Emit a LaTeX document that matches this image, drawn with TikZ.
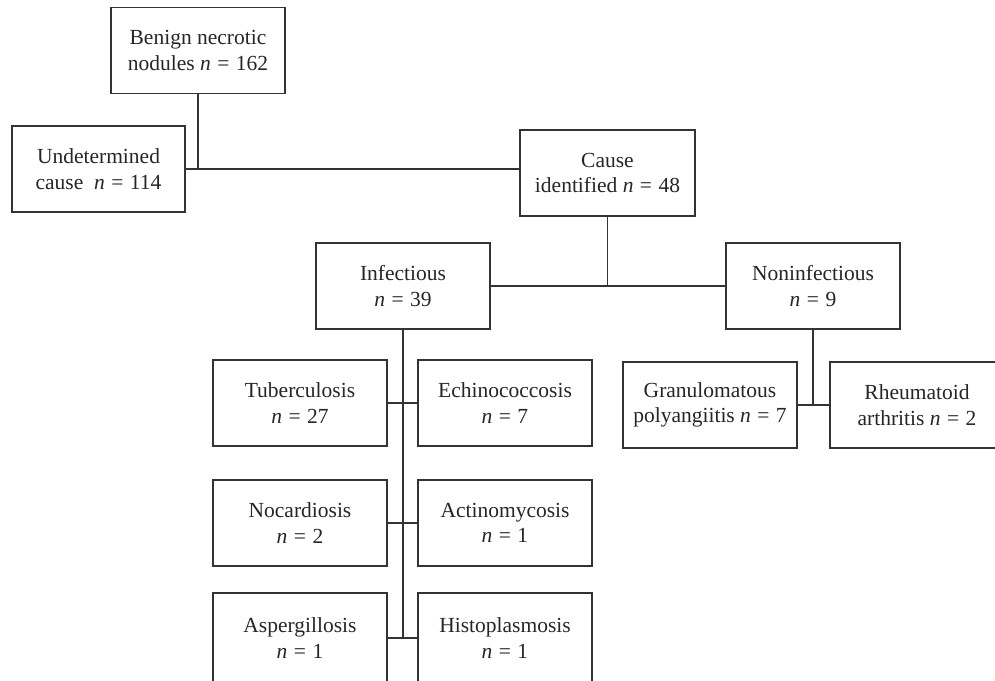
\documentclass[tikz,border=0pt]{standalone}
\usepackage{fontspec}
\setmainfont{Liberation Serif}
\newcommand{\nn}{\textit{n}\hspace{0.3em}=\hspace{0.3em}}
\begin{document}
\begin{tikzpicture}[x=1pt,y=-1pt,
  box/.style={draw=black!80, line width=1.3pt, fill=white, minimum width=174pt, minimum height=86pt,
    inner sep=0pt, align=center, font=\fontsize{21.5}{25.5}\selectfont, text=black!85},
  link/.style={draw=black!80, line width=1.3pt}]
\useasboundingbox (0,0) rectangle (995,680);
\clip (0,0) rectangle (995,680);
\fill[white] (0,0) rectangle (995,680);
\node[box] (ben) at (198,50.5) {Benign necrotic\\nodules \nn162};
\node[box,minimum width=173pt] (und) at (98.5,169) {Undetermined\\cause\ \ \nn114};
\node[box,minimum width=175pt] (cau) at (607.5,173) {Cause\\identified \nn48};
\node[box] (inf) at (403,286) {Infectious\\\nn39};
\node[box] (non) at (813,286) {Noninfectious\\\nn9};
\node[box] (tub) at (300,403) {Tuberculosis\\\nn27};
\node[box] (ech) at (505,403) {Echinococcosis\\\nn7};
\node[box] (gra) at (710,405) {Granulomatous\\polyangiitis \nn7};
\node[box] (rhe) at (917,405) {Rheumatoid\\arthritis \nn2};
\node[box] (noc) at (300,523) {Nocardiosis\\\nn2};
\node[box] (act) at (505,523) {Actinomycosis\\\nn1};
\node[box,minimum height=90pt] (asp) at (300,638) {Aspergillosis\\\nn1};
\node[box,minimum height=90pt] (his) at (505,638) {Histoplasmosis\\\nn1};
% connectors
\draw[link] (und.east) -- (und.east -| cau.west);
\draw[link] (ben.south) -- (ben.south |- und.east);
\draw[link] (inf.east) -- (non.west);
\draw[link] (cau.south) -- (cau.south |- inf.east);
\draw[link] (inf.south) -- (inf.south |- asp.east);
\draw[link] (tub.east) -- (ech.west);
\draw[link] (noc.east) -- (act.west);
\draw[link] (asp.east) -- (his.west);
\draw[link] (non.south) -- (non.south |- gra.east);
\draw[link] (gra.east) -- (rhe.west);
\end{tikzpicture}
\end{document}
